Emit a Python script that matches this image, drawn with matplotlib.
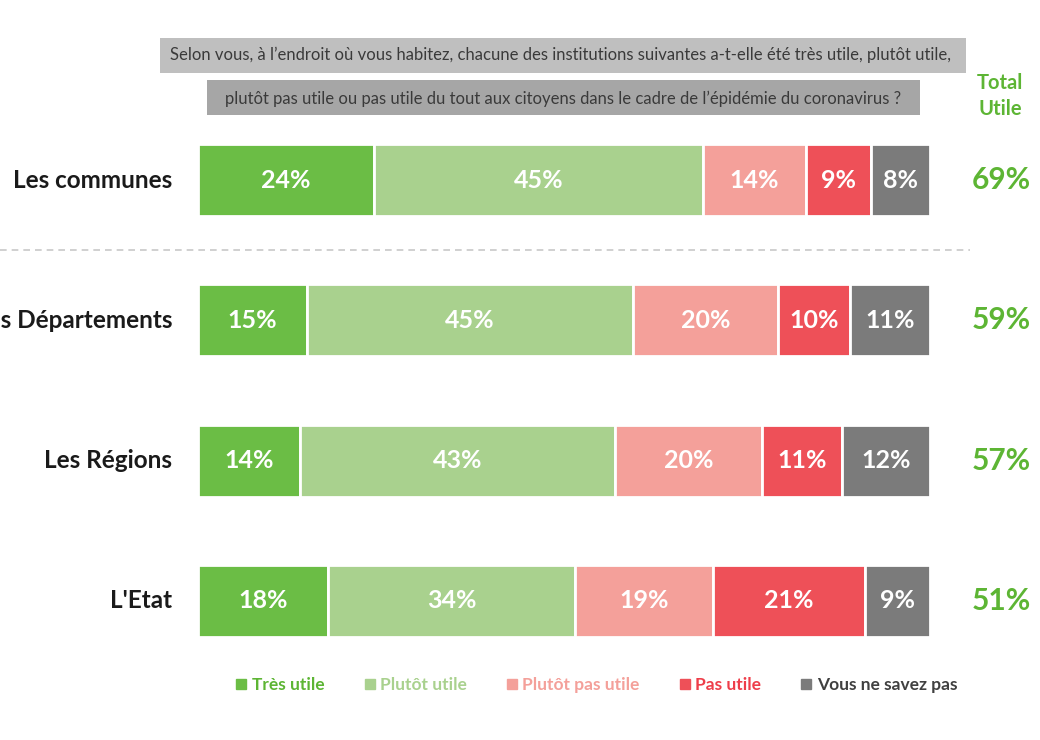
import numpy as np
import matplotlib.pyplot as plt
from matplotlib.patches import Rectangle
from matplotlib.lines import Line2D

plt.rcParams['font.family'] = ['Lato', 'DejaVu Sans']

categories = ["Les communes", "Les Départements", "Les Régions", "L'Etat"]
series_names = ["Très utile", "Plutôt utile", "Plutôt pas utile", "Pas utile", "Vous ne savez pas"]
tres_utile = [24, 15, 14, 18]
plutot_utile = [45, 45, 43, 34]
plutot_pas_utile = [14, 20, 20, 19]
pas_utile = [9, 10, 11, 21]
ne_sait_pas = [8, 11, 12, 9]
total_utile = [69, 59, 57, 51]

colors = ['#6BBD45', '#A9D18E', '#F4A09A', '#EE5058', '#7B7B7B']
text_colors = ['#5DB534', '#A9D18E', '#F4A09A', '#EE3E4A', '#404040']
green = '#5DB534'

values = np.array([tres_utile, plutot_utile, plutot_pas_utile, pas_utile, ne_sait_pas], dtype=float)
# every row is drawn to full width, so scale each row to its own sum
shares = values / values.sum(axis=0) * 100

fig = plt.figure(figsize=(10.4, 7.4), dpi=100)
W, H = 1040, 740

# axes spans the bar area in pixel terms
ax = fig.add_axes([198 / W, 1 - 671 / H, (930 - 198) / W, 561 / H])
ax.set_xlim(0, 100)
ax.set_ylim(3.5, -0.5)
ax.axis('off')

y = np.arange(len(categories))
left = np.zeros(len(categories))
for i in range(len(series_names)):
    ax.barh(y, shares[i], left=left, height=0.515, color=colors[i],
            edgecolor='white', linewidth=2)
    for j in range(len(categories)):
        ax.text(left[j] + shares[i][j] / 2, y[j], f"{int(values[i][j])}%",
                ha='center', va='center', color='white', fontsize=18, fontweight='bold')
    left += shares[i]

for j, cat in enumerate(categories):
    ax.text(-0.035, y[j], cat, transform=ax.get_yaxis_transform(), ha='right', va='center',
            fontsize=17.5, fontweight='bold', color='#1a1a1a')
    ax.text(1.0 + 71 / 732, y[j], f"{total_utile[j]}%", transform=ax.get_yaxis_transform(),
            ha='center', va='center', fontsize=21.5, fontweight='bold', color=green)

# dashed separator between communes and the rest
ax.plot([-198 / 732, 1 + 40 / 732], [0.5, 0.5], transform=ax.get_yaxis_transform(),
        color='#C8C8C8', linestyle=(0, (4, 3)), linewidth=1.2, clip_on=False)

# question boxes
fig.patches.append(Rectangle((160 / W, 1 - 73 / H), (966 - 160) / W, 35 / H,
                             transform=fig.transFigure, facecolor='#BFBFBF', edgecolor='none'))
fig.patches.append(Rectangle((207 / W, 1 - 115 / H), (920 - 207) / W, 35 / H,
                             transform=fig.transFigure, facecolor='#A6A6A6', edgecolor='none'))
fig.text(561 / W, 1 - 55 / H,
         "Selon vous, à l’endroit où vous habitez, chacune des institutions suivantes a-t-elle été très utile, plutôt utile,",
         ha='center', va='center', fontsize=12, color='#3a3a3a')
fig.text(563 / W, 1 - 99 / H,
         "plutôt pas utile ou pas utile du tout aux citoyens dans le cadre de l’épidémie du coronavirus ?",
         ha='center', va='center', fontsize=12, color='#3a3a3a')

fig.text(1000 / W, 1 - 96 / H, "Total\nUtile", ha='center', va='center', fontsize=14.5,
         fontweight='bold', color=green, linespacing=1.35)

handles = [Line2D([], [], marker='s', linestyle='none', markersize=6.5, color=c) for c in colors]
fig.legend(handles, series_names, loc='center', bbox_to_anchor=(595 / W, 1 - 685 / H),
           ncol=5, frameon=False, prop={'size': 12.5, 'weight': 'bold'}, labelcolor=text_colors,
           handletextpad=0.1, columnspacing=2.1, handlelength=1.0)

fig.savefig('out.png', dpi=100, facecolor='white')
